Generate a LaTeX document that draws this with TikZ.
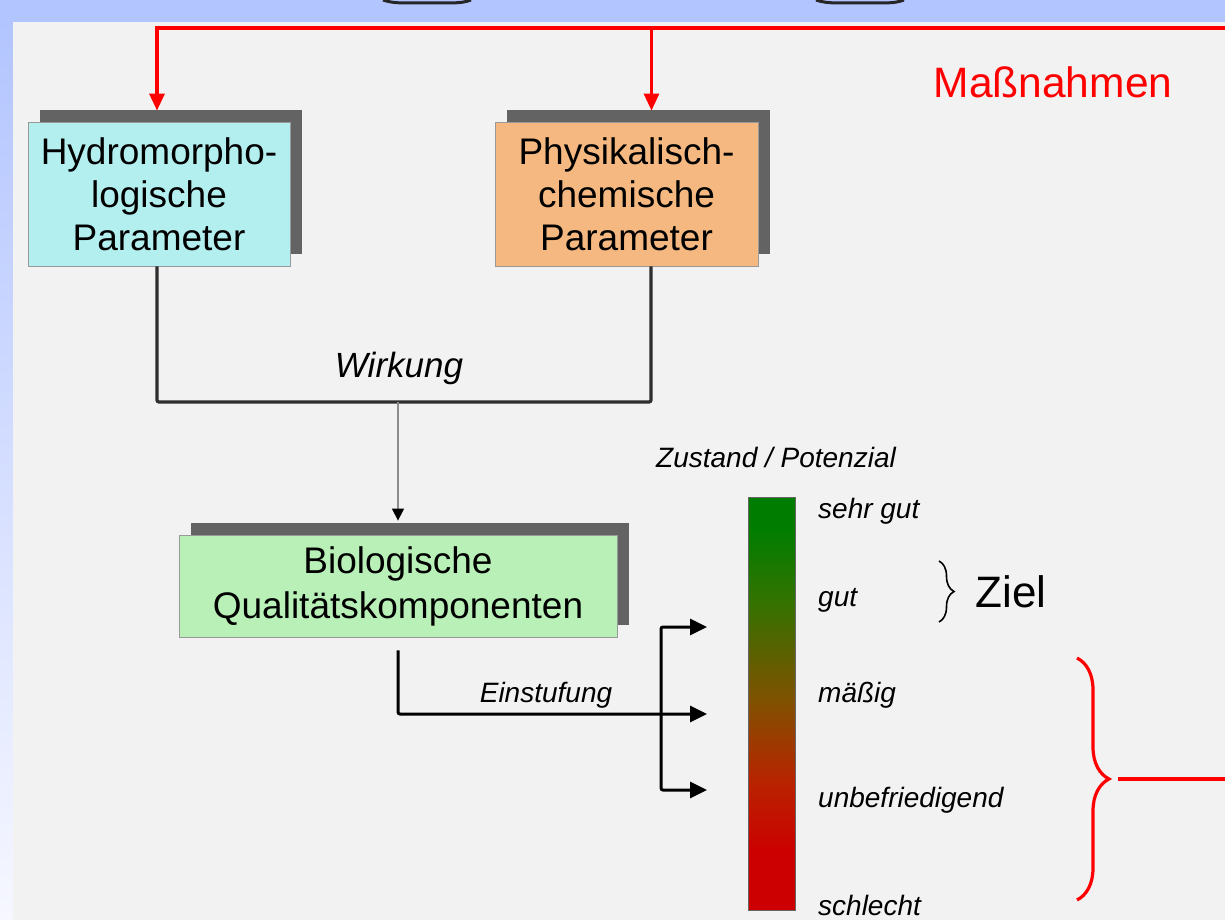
\documentclass[tikz,border=0pt]{standalone}
\usepackage{fontspec}
\setmainfont{Liberation Sans}
\usetikzlibrary{arrows.meta,shadows,decorations.pathreplacing,calc}
\definecolor{bgblue}{HTML}{B3C5FF}
\definecolor{bgpale}{HTML}{F6F7FF}
\definecolor{bggray}{HTML}{F2F2F2}
\definecolor{shadowgray}{HTML}{636363}
\definecolor{cyanbox}{HTML}{B4EFF0}
\definecolor{orangebox}{HTML}{F4B880}
\definecolor{greenbox}{HTML}{B8F0B8}
\definecolor{mred}{HTML}{FF0000}
\definecolor{darkline}{HTML}{2E2E2E}
\pgfdeclareverticalshading{barshade}{100bp}{%
  rgb(0bp)=(0.80,0,0);
  rgb(32bp)=(0.80,0,0);
  rgb(40.7bp)=(0.72,0.14,0);
  rgb(50.4bp)=(0.50,0.32,0);
  rgb(62.5bp)=(0.20,0.45,0);
  rgb(71bp)=(0,0.49,0);
  rgb(100bp)=(0,0.49,0)}
\begin{document}
\begin{tikzpicture}[x=1pt,y=-1pt,
  box/.style={draw=black!40, line width=0.8pt, align=center, inner sep=0pt,
    font=\fontsize{37}{43}\selectfont,
    drop shadow={shadow xshift=12pt, shadow yshift=12pt, fill=shadowgray, opacity=1}},
  redline/.style={draw=mred, line width=3.2pt},
  redarrow/.style={redline, -{Triangle[length=17pt,width=15pt]}},
  blkline/.style={draw=black, line width=3pt, rounded corners=2pt},
  blkarrow/.style={blkline, -{Triangle[length=17pt,width=16pt]}},
  lbl/.style={anchor=west, inner sep=0pt, font=\fontsize{28}{30}\selectfont\itshape},
]
\useasboundingbox (0,0) rectangle (1225,920);
% background
\fill[bgblue] (0,0) rectangle (1225,22);
\shade[top color=bgblue, bottom color=bgpale] (0,22) rectangle (13,920);
\fill[bggray] (13,22) rectangle (1225,920);
\draw[black!85, line width=3pt] (383,0) .. controls (392,3) and (400,3) .. (410,3) -- (444,3) .. controls (455,3) and (463,3) .. (471,0);
\draw[black!85, line width=3pt] (816,0) .. controls (825,3) and (833,3) .. (843,3) -- (877,3) .. controls (888,3) and (896,3) .. (904,0);

% boxes
\node[box, fill=cyanbox, minimum width=262pt, minimum height=144pt] (b1) at (159,194) {Hydromorpho-\\logische\\Parameter};
\node[box, fill=orangebox, minimum width=263pt, minimum height=144pt] (b2) at (626.5,194) {Physikalisch-\\chemische\\Parameter};
\node[box, fill=greenbox, minimum width=438pt, minimum height=102pt, font=\fontsize{37}{45}\selectfont] (b3) at (398,586) {Biologische\\Qualitätskomponenten};

% Massnahmen
\node[text=mred, font=\fontsize{42.5}{46}\selectfont, inner sep=0pt] (mass) at (1053,82) {Maßnahmen};
\coordinate (rtop) at (1225,28);
\draw[redarrow] (rtop) -| ([xshift=-2pt,yshift=11pt]b1.north);
\draw[redarrow] ([xshift=25pt]b2.north |- rtop) -- ([xshift=25pt,yshift=11pt]b2.north);

% Wirkung
\coordinate (wj) at (651,402);
\draw[draw=darkline, line width=3.2pt, rounded corners=2pt] ([xshift=-2pt]b1.south) |- (wj) -- (b2.south -| wj);
\node[font=\fontsize{35}{38}\selectfont\itshape, inner sep=0pt] (wirk) at (399,368) {Wirkung};
\draw[draw=black!45, line width=1.3pt, -{Triangle[length=12pt,width=12pt,color=black]}] (b3.north |- wj) -- ([yshift=14pt]b3.north);

% colour bar
\node[draw=black!60, line width=0.8pt, minimum width=47pt, minimum height=413pt, inner sep=0pt,
  shading=barshade] (bar) at (771.5,703.5) {};
\node[font=\fontsize{28}{30}\selectfont\itshape, inner sep=0pt] (zp) at (776,457) {Zustand / Potenzial};
\node[lbl] (l1) at (818,511) {sehr gut};
\node[lbl] (l2) at (818,600) {gut};
\node[lbl] (l3) at (818,695) {mäßig};
\node[lbl] (l4) at (818,800) {unbefriedigend};
\node[lbl] (l5) at (818,905) {schlecht};

% Einstufung arrows
\coordinate (tA) at (707,627);
\coordinate (tB) at (707,714);
\coordinate (tC) at (707,790);
\coordinate (jM) at (661,714);
\draw[blkarrow] ([yshift=-13pt]b3.south) |- (tB);
\draw[blkarrow] (jM) |- (tA);
\draw[blkarrow] (jM) |- (tC);
\node[font=\fontsize{28}{30}\selectfont\itshape, inner sep=0pt] (einst) at (546,695) {Einstufung};

% Ziel
\draw[black, line width=1.6pt, decorate, decoration={brace, amplitude=15pt}] (939,561) -- (939,622);
\node[font=\fontsize{44}{48}\selectfont, inner sep=0pt] (ziel) at (1011,592) {Ziel};

% big red brace
\draw[redline, decorate, decoration={brace, amplitude=32pt}] (1077,658) -- (1077,900);
\coordinate (btip) at (1118,779);
\coordinate (rb) at (1225,779);
\draw[redline] (btip) -- (rb);
\end{tikzpicture}
\end{document}
